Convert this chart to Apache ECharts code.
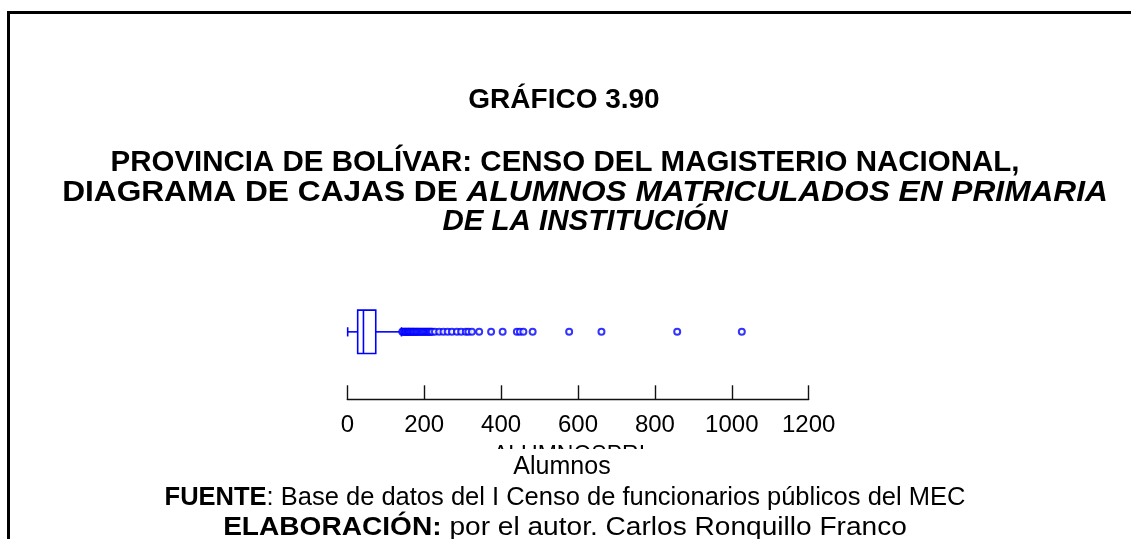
<!DOCTYPE html>
<html>
<head>
<meta charset="utf-8">
<script src="https://cdn.jsdelivr.net/npm/echarts@6/dist/echarts.min.js"></script>
<style>
html,body{margin:0;padding:0;background:#fff;}
#chart{width:1131px;height:539px;}
</style>
</head>
<body>
<div id="chart"></div>
<script>
// ---- data ----
const categories = ['ALUMNOSPRI'];
// [lower whisker, Q1, median, Q3, upper whisker]
const boxStats = [1, 27, 42, 74, 141];
const outliers = [143, 146, 149, 151, 153, 156, 158, 160, 162, 165, 167, 170, 172, 174, 177,
  180, 182, 185, 188, 191, 194, 197, 200, 203, 206, 209, 212, 215, 218, 221,
  228, 239, 250, 261, 272, 285, 296, 308, 315, 324, 343, 374, 404, 441, 449, 458, 482,
  577, 661, 858, 1026];
const axisMin = 0, axisMax = 1200, axisStep = 200;
const titleLine1 = 'GRÁFICO 3.90';
const titleLine2 = 'PROVINCIA DE BOLÍVAR: CENSO DEL MAGISTERIO NACIONAL,';
const titleLine3a = 'DIAGRAMA DE CAJAS DE ';
const titleLine3b = 'ALUMNOS MATRICULADOS EN PRIMARIA';
const titleLine4 = 'DE LA INSTITUCIÓN';
const hiddenAxisName = 'ALUMNOSPRI';
const axisTitle = 'Alumnos';
const sourceLabel = 'FUENTE';
const sourceText = ': Base de datos del I Censo de funcionarios públicos del MEC';
const authorLabel = 'ELABORACIÓN:';
const authorText = ' por el autor. Carlos Ronquillo Franco';

const FONT = "'Liberation Sans', Arial, sans-serif";
const BLUE = '#0000ff';

const chart = echarts.init(document.getElementById('chart'), null, {renderer: 'canvas'});

const option = {
  backgroundColor: '#fff',
  animation: false,
  grid: {left: 347.3, right: 322.3, top: 264, bottom: 139.7, containLabel: false},
  xAxis: {
    type: 'value', min: axisMin, max: axisMax, interval: axisStep,
    axisLine: {show: true, lineStyle: {color: '#111', width: 1.4}},
    axisTick: {show: true, inside: true, length: 14, lineStyle: {color: '#111', width: 1.4}},
    axisLabel: {color: '#000', fontSize: 24, fontFamily: FONT, margin: 14, formatter: v => String(v)},
    splitLine: {show: false}
  },
  yAxis: {type: 'category', data: categories, show: false},
  series: [
    {
      type: 'custom',
      data: [[0].concat(boxStats)],
      encode: {x: [1, 2, 3, 4, 5], y: 0},
      renderItem: function (params, api) {
        const cat = api.value(0);
        const lo = api.coord([api.value(1), cat]);
        const q1 = api.coord([api.value(2), cat]);
        const md = api.coord([api.value(3), cat]);
        const q3 = api.coord([api.value(4), cat]);
        const hi = api.coord([api.value(5), cat]);
        const y = lo[1] + 0.2;
        const hb = 21.7, hc = 4.6;
        const st = {stroke: BLUE, lineWidth: 1.6, fill: null};
        return {
          type: 'group',
          children: [
            {type: 'line', shape: {x1: lo[0], y1: y, x2: q1[0], y2: y}, style: st},
            {type: 'line', shape: {x1: q3[0], y1: y, x2: hi[0], y2: y}, style: st},
            {type: 'line', shape: {x1: lo[0], y1: y - hc, x2: lo[0], y2: y + hc}, style: st},
            {type: 'line', shape: {x1: hi[0], y1: y - hc, x2: hi[0], y2: y + hc}, style: st},
            {type: 'rect', shape: {x: q1[0], y: y - hb, width: q3[0] - q1[0], height: 2 * hb}, style: {stroke: BLUE, lineWidth: 1.6, fill: 'none'}},
            {type: 'line', shape: {x1: md[0], y1: y - hb, x2: md[0], y2: y + hb}, style: st}
          ]
        };
      }
    },
    {
      type: 'scatter',
      data: outliers.map(v => [v, categories[0]]),
      symbol: 'circle',
      symbolSize: 6,
      itemStyle: {color: '#fff', borderColor: BLUE, borderWidth: 2},
      z: 3
    }
  ],
  graphic: [
    {type: 'rect', z: 100, shape: {x: 7, y: 11, width: 1124, height: 3}, style: {fill: '#000'}},
    {type: 'rect', z: 100, shape: {x: 7, y: 11, width: 3, height: 528}, style: {fill: '#000'}},
    {type: 'text', z: 100, x: 564, y: 100, style: {text: titleLine1, font: 'bold 28px ' + FONT, fill: '#000', textAlign: 'center', textVerticalAlign: 'middle'}},
    {type: 'text', z: 100, x: 565, y: 163, style: {text: titleLine2, font: 'bold 29.5px ' + FONT, fill: '#000', textAlign: 'center', textVerticalAlign: 'middle'}},
    {type: 'text', z: 100, x: 585, y: 193, scaleX: 1.073, style: {
      text: '{a|' + titleLine3a + '}{b|' + titleLine3b + '}',
      textAlign: 'center', textVerticalAlign: 'middle',
      rich: {
        a: {font: 'bold 29.5px ' + FONT, fill: '#000'},
        b: {font: 'italic bold 29.5px ' + FONT, fill: '#000'}
      }
    }},
    {type: 'text', z: 100, x: 585, y: 222, style: {text: titleLine4, font: 'italic bold 29.5px ' + FONT, fill: '#000', textAlign: 'center', textVerticalAlign: 'middle'}},
    {type: 'text', z: 100, x: 569, y: 444, style: {text: hiddenAxisName, font: '23px ' + FONT, fill: '#000', textAlign: 'center', textVerticalAlign: 'top'}},
    {type: 'rect', z: 101, shape: {x: 470, y: 449, width: 200, height: 32}, style: {fill: '#fff'}},
    {type: 'text', z: 102, x: 562, y: 467, style: {text: axisTitle, font: '25px ' + FONT, fill: '#000', textAlign: 'center', textVerticalAlign: 'middle'}},
    {type: 'text', z: 102, x: 565, y: 498, style: {
      text: '{a|' + sourceLabel + '}{b|' + sourceText + '}',
      textAlign: 'center', textVerticalAlign: 'middle',
      rich: {
        a: {font: 'bold 25.5px ' + FONT, fill: '#000'},
        b: {font: '25.5px ' + FONT, fill: '#000'}
      }
    }},
    {type: 'text', z: 102, x: 565, y: 528, scaleX: 1.06, style: {
      text: '{a|' + authorLabel + '}{b|' + authorText + '}',
      textAlign: 'center', textVerticalAlign: 'middle',
      rich: {
        a: {font: 'bold 26.5px ' + FONT, fill: '#000'},
        b: {font: '26.5px ' + FONT, fill: '#000'}
      }
    }}
  ]
};
chart.setOption(option);
</script>
</body>
</html>
